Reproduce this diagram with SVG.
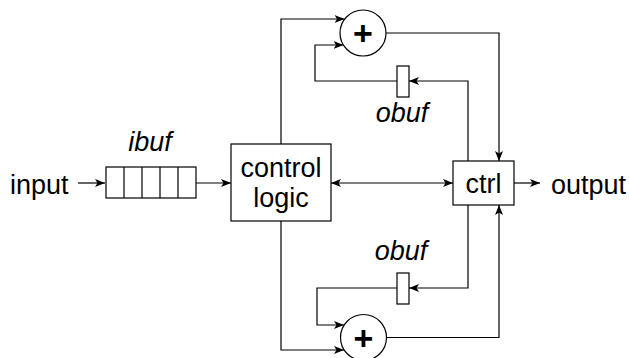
<svg xmlns="http://www.w3.org/2000/svg" width="629" height="358" viewBox="0 0 629 358">
<defs>
<marker id="arr" viewBox="0 0 10 8" refX="10" refY="4" markerWidth="10" markerHeight="8" markerUnits="userSpaceOnUse" orient="auto-start-reverse">
<path d="M0,0 L10,4 L0,8 L2.5,4 z" fill="#000"/>
</marker>
<style>
.ln{fill:none;stroke:#000;stroke-width:1.2}
.bx{fill:#fff;stroke:#000;stroke-width:1.2}
.t{font-family:"Liberation Sans",Arial,sans-serif;font-size:27px;fill:#000}
.i{font-style:italic}
.pl{font-family:"Liberation Sans",Arial,sans-serif;font-size:34px;font-weight:bold;fill:#000}
</style>
</defs>
<rect width="629" height="358" fill="#fff"/>
<g id="connectors">
<path class="ln" d="M78,183 H105" marker-end="url(#arr)"/>
<path class="ln" d="M196,183 H231" marker-end="url(#arr)"/>
<path class="ln" d="M331,183 H453" marker-start="url(#arr)" marker-end="url(#arr)"/>
<path class="ln" d="M514,183 H540" marker-end="url(#arr)"/>
<path class="ln" d="M281,144 V19 H344.5" marker-end="url(#arr)"/>
<path class="ln" d="M397,81 H315 V45 H343.5" marker-end="url(#arr)"/>
<path class="ln" d="M386,33 H499 V161" marker-end="url(#arr)"/>
<path class="ln" d="M468,161 V81 H409" marker-end="url(#arr)"/>
<path class="ln" d="M281,221 V350 H344" marker-end="url(#arr)"/>
<path class="ln" d="M397,288 H317 V325 H344" marker-end="url(#arr)"/>
<path class="ln" d="M386,337.5 H499 V205" marker-end="url(#arr)"/>
<path class="ln" d="M468,205 V288 H409" marker-end="url(#arr)"/>
</g>
<g id="input"><text class="t" x="10" y="194">input</text></g>
<g id="output"><text class="t" x="551" y="194">output</text></g>
<g id="ibuf">
<text class="t i" x="150" y="151" text-anchor="middle">ibuf</text>
<rect class="bx" x="106" y="167" width="90" height="31"/>
<path class="ln" d="M124,167 V198 M142,167 V198 M160,167 V198 M178,167 V198"/>
</g>
<g id="control-logic">
<rect class="bx" x="231" y="144" width="100" height="77"/>
<text class="t" x="281" y="177" text-anchor="middle">control</text>
<text class="t" x="281" y="207" text-anchor="middle">logic</text>
</g>
<g id="ctrl">
<rect class="bx" x="453" y="161" width="61" height="44"/>
<text class="t" x="483.5" y="193" text-anchor="middle">ctrl</text>
</g>
<g id="adder-top">
<circle class="bx" cx="363" cy="33" r="23"/>
<text class="pl" x="363" y="45" text-anchor="middle">+</text>
</g>
<g id="obuf-top">
<rect class="bx" x="397" y="66" width="12" height="31"/>
<text class="t i" x="402" y="122" text-anchor="middle">obuf</text>
</g>
<g id="adder-bottom">
<circle class="bx" cx="363.5" cy="337.5" r="23"/>
<text class="pl" x="363.5" y="349.5" text-anchor="middle">+</text>
</g>
<g id="obuf-bottom">
<rect class="bx" x="397" y="273" width="12" height="31"/>
<text class="t i" x="401" y="260" text-anchor="middle">obuf</text>
</g>
</svg>
